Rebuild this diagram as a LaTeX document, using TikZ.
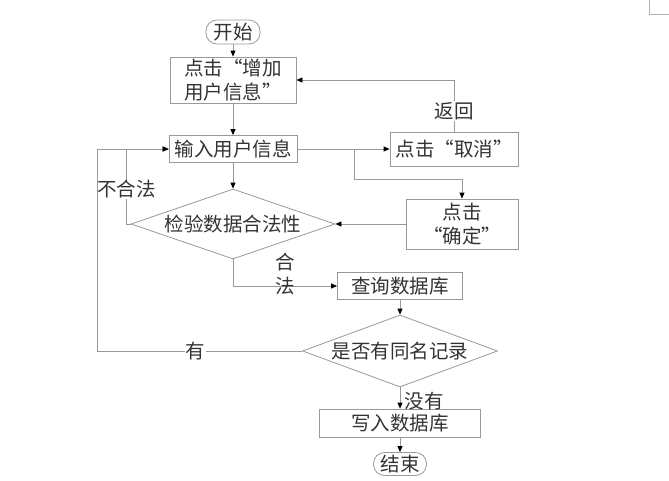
\documentclass[tikz,border=0pt]{standalone}
\usepackage{fontspec}
\newfontfamily\cjk{Noto Sans CJK SC}
\usetikzlibrary{shapes.geometric,arrows.meta}

\begin{document}
\begin{tikzpicture}
    [
        x=1pt, y=-1pt,
        every node/.style={font=\cjk\fontsize{19.5}{24}\selectfont, text=black!80},
        box style/.style={draw=gray!80, line width=0.8pt, rectangle, inner sep=0pt, align=center},
        end style/.style={box style, rounded corners=11pt},
        test style/.style={draw=gray!80, line width=0.8pt, diamond, aspect=3, inner sep=0pt},
        flow line/.style={draw=gray!80, line width=0.8pt, -{Triangle[length=6pt,width=5pt,color=black]}},
        tag/.style={fill=white, inner sep=1pt, align=center}
    ]
    \useasboundingbox (0,0) rectangle (669,480);
    \draw[gray!60] (649,0) -- (649,14) -- (669,14);

    % boxes
    \node[end style, minimum width=54pt, minimum height=24pt] (start) at (233,32) {开始};
    \node[box style, minimum width=126pt, minimum height=46pt] (add) at (233,80) {点击“增加\\用户信息”};
    \node[box style, minimum width=128pt, minimum height=27pt] (input) at (233,149) {输入用户信息};
    \node[test style, minimum width=204pt, minimum height=70pt] (check) at (233,224) {检验数据合法性};
    \node[box style, minimum width=128pt, minimum height=34pt] (cancel) at (454,149) {点击“取消”};
    \node[box style, minimum width=112pt, minimum height=50pt] (confirm) at (462,224) {点击\\“确定”};
    \node[box style, minimum width=125pt, minimum height=27pt] (query) at (400,286) {查询数据库};
    \node[test style, minimum width=195pt, minimum height=72pt] (dup) at (400,351) {是否有同名记录};
    \node[box style, minimum width=161pt, minimum height=28pt] (write) at (400,423) {写入数据库};
    \node[end style, minimum width=53pt, minimum height=23pt] (stop) at (400,464) {结束};

    \coordinate (split) at (354,149);
    \coordinate (splitlow) at (354,179);
    \coordinate (back) at (97,351);

    % main flow
    \draw[flow line] (start) -- (add);
    \draw[flow line] (add) -- (input);
    \draw[flow line] (input) -- (check);
    \draw[flow line] (check.south) |- node[pos=0.75, yshift=12pt, inner sep=0pt, align=center] {合\\法} (query.west);
    \draw[flow line] (query) -- (dup);
    \draw[flow line] (dup) -- node[right, xshift=1pt, yshift=-3pt] {没有} (write);
    \draw[flow line] (write) -- (stop);

    % side branches
    \draw[flow line] (input) -- (cancel);
    \draw[flow line] (split) -- (splitlow) -| (confirm.north);
    \draw[flow line] (confirm) -- (check);
    \draw[flow line] (cancel.north) |- node[pos=0.2, tag] {返回} (add.east);
    \draw[flow line] (check.west) -- ++(-4,0) |- node[pos=0.23, tag] {不合法} (input.west);
    \draw[flow line] (dup.west) -- node[pos=0.52, tag] {有} (back) |- (input.west);
\end{tikzpicture}
\end{document}
